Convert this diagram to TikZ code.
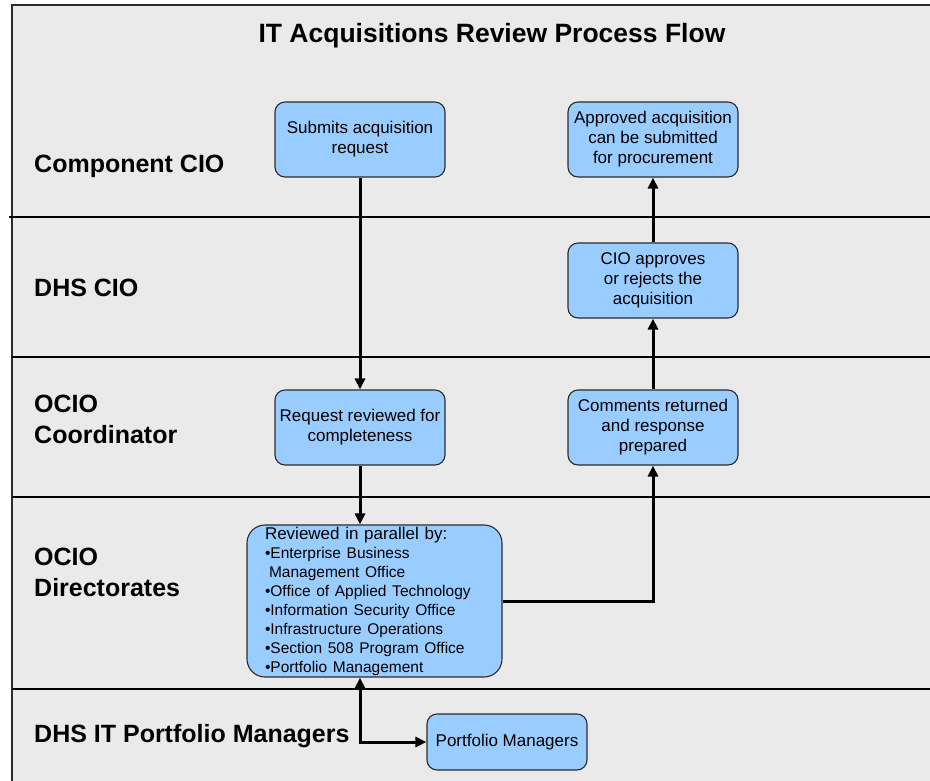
\documentclass[tikz,border=0pt]{standalone}
\usepackage{fontspec}
\setmainfont{Liberation Sans}
\usetikzlibrary{arrows.meta,calc}
\definecolor{lanebg}{HTML}{EAEAEA}
\definecolor{boxblue}{HTML}{99CCFF}
\definecolor{boxedge}{HTML}{2B2B2B}
\begin{document}
\begin{tikzpicture}[x=1pt,y=-1pt,
  stepbox/.style={draw=boxedge, line width=1.1pt, fill=boxblue, rounded corners=10pt, align=center, font=\fontsize{17}{20}\selectfont, inner sep=2pt},
  lanelabel/.style={font=\fontsize{25}{31}\selectfont\bfseries, align=left, inner sep=0pt},
  flow/.style={line width=3pt, -{Triangle[length=11pt,width=10pt]}},
  laneline/.style={line width=2.2pt, black}]
\useasboundingbox (0,0) rectangle (930,780);
\fill[lanebg] (12,5) rectangle (935,785);
\draw[line width=1.5pt, boxedge] (12,785) -- (12,5) -- (935,5);
% lane separators
\draw[laneline] (9,217) -- (935,217);
\draw[laneline] (12,357) -- (935,357);
\draw[laneline] (12,497) -- (935,497);
\draw[laneline] (12,689) -- (935,689);
% title
\node[font=\fontsize{26.5}{30}\selectfont\bfseries, anchor=base, inner sep=0pt] (title) at (492,42) {IT Acquisitions Review Process Flow};
% lane labels
\node[lanelabel, anchor=base west] (l1) at (34,172) {Component CIO};
\node[lanelabel, anchor=base west] (l2) at (34,296) {DHS CIO};
\node[lanelabel, anchor=north west] (l3) at (34,395) {OCIO\\Coordinator};
\node[lanelabel, anchor=north west] (l4) at (34,548) {OCIO\\Directorates};
\node[lanelabel, anchor=base west] (l5) at (34,742) {DHS IT Portfolio Managers};
% boxes
\node[stepbox, minimum width=170pt, minimum height=75pt] (submit) at (360,139.5) {Submits acquisition\\request};
\node[stepbox, minimum width=170pt, minimum height=75pt] (approved) at (653,139.5) {Approved acquisition\\can be submitted\\for procurement};
\node[stepbox, minimum width=170pt, minimum height=75pt] (cio) at (653,280.5) {CIO approves\\or rejects the\\acquisition};
\node[stepbox, minimum width=170pt, minimum height=75pt] (req) at (360,427.5) {Request reviewed for\\completeness};
\node[stepbox, minimum width=170pt, minimum height=75pt] (comments) at (653,427.5) {Comments returned\\and response\\prepared};
\node[stepbox, rounded corners=18pt, align=left, text width=219pt, inner xsep=18pt, inner ysep=0pt, minimum height=152pt, font=\fontsize{17}{19}\selectfont] (big) at (374.5,601) {\mbox{Reviewed in parallel by:}\\
\fontsize{15.5}{19}\selectfont
\mbox{•Enterprise Business}\\
\mbox{\hspace*{4pt}Management Office}\\
\mbox{•Office of Applied Technology}\\
\mbox{•Information Security Office}\\
\mbox{•Infrastructure Operations}\\
\mbox{•Section 508 Program Office}\\
\mbox{•Portfolio Management}};
\node[stepbox, minimum width=160pt, minimum height=56pt] (pm) at (507,742) {Portfolio Managers};
% connectors
\draw[flow] (submit.south) -- (req.north);
\draw[flow] (req.south) -- (req.south |- big.north);
\draw[flow] (big.east |- 0,601) -| (comments.south);
\draw[flow] (comments.north) -- (cio.south);
\draw[flow] (cio.north) -- (approved.south);
\draw[line width=3pt, {Triangle[length=11pt,width=10pt]}-{Triangle[length=11pt,width=10pt]}] (req.south |- big.south) |- (pm.west);
\end{tikzpicture}
\end{document}
